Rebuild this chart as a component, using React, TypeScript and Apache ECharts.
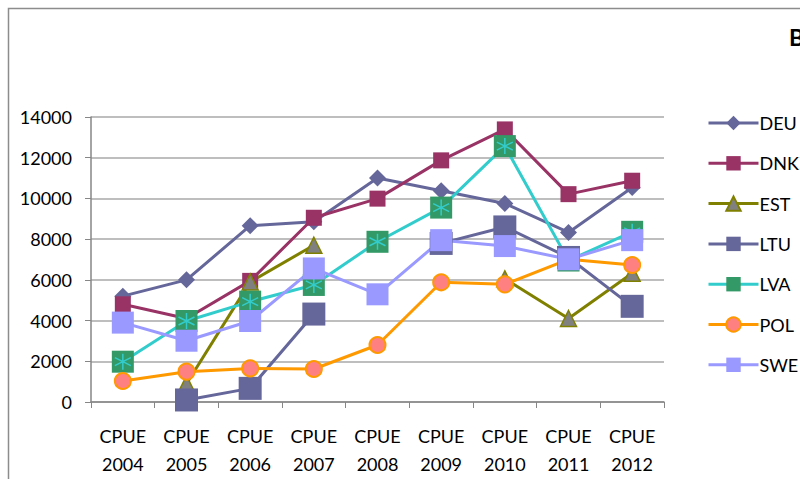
import React, { useEffect, useRef } from "react";
import * as echarts from "echarts";

const categories = ["CPUE 2004", "CPUE 2005", "CPUE 2006", "CPUE 2007", "CPUE 2008", "CPUE 2009", "CPUE 2010", "CPUE 2011", "CPUE 2012"];
const yTicks = [0, 2000, 4000, 6000, 8000, 10000, 12000, 14000];

const DEU = [5200, 6000, 8660, 8850, 11000, 10380, 9750, 8330, 10540];
const DNK = [4800, 4100, 5950, 9050, 9990, 11870, 13390, 10210, 10870];
const EST = [null, 900, 5900, 7700, null, null, 6050, 4100, 6320];
const LTU = [null, 100, 670, 4320, null, 7790, 8600, 7100, 4700];
const LVA = [1980, 3980, 4930, 5750, 7870, 9550, 12570, 6950, 8360];
const POL = [1030, 1490, 1650, 1620, 2800, 5880, 5780, 7010, 6730];
const SWE = [3900, 3010, 3980, 6560, 5290, 7950, 7660, 7010, 7950];

const FONT = "Lato, 'Open Sans', sans-serif";

export default function App() {
  const ref = useRef<HTMLDivElement>(null);
  useEffect(() => {
    if (!ref.current) return;
    const chart = echarts.init(ref.current, null, { renderer: "svg" });
    const lw = 3;
    const mk = (name: string, data: any[], color: string, symbol: string, size: number, fill: string, border?: string, bw = 0) => ({
      name,
      type: "line",
      data,
      symbol,
      symbolSize: size,
      showAllSymbol: true,
      connectNulls: false,
      lineStyle: { color, width: lw },
      itemStyle: { color: fill, borderColor: border || fill, borderWidth: bw },
      emphasis: { disabled: true },
    });
    chart.setOption({
      animation: false,
      textStyle: { fontFamily: FONT },
      graphic: [
        {
          type: "rect",
          shape: { x: 8.5, y: 8.5, width: 820, height: 500 },
          style: { fill: "none", stroke: "#8c8c8c", lineWidth: 1.5 },
          z: 0,
        },
        {
          type: "text",
          left: 789,
          top: 25,
          style: { text: "B", font: `bold 23px ${FONT}`, fill: "#000" },
        },
      ],
      legend: {
        orient: "vertical",
        left: 702,
        top: 109,
        itemWidth: 50,
        itemHeight: 18,
        itemGap: 22.3,
        data: ["DEU", "DNK", "EST", "LTU", "LVA", "POL", "SWE"],
        lineStyle: { width: 3 },
        textStyle: { fontSize: 18, color: "#000", fontFamily: FONT, padding: [0, 0, 0, -4] },
      },
      grid: { left: 91, right: 136, top: 117, bottom: 77, containLabel: false },
      xAxis: {
        type: "category",
        data: categories,
        boundaryGap: true,
        axisLine: { lineStyle: { color: "#868686", width: 1.5 } },
        axisTick: { show: true, length: 6, lineStyle: { color: "#868686" } },
        axisLabel: {
          formatter: (v: string) => v.replace(" ", "\n"),
          fontSize: 18,
          lineHeight: 28,
          color: "#000",
          margin: 20,
          interval: 0,
          fontFamily: FONT,
        },
      },
      yAxis: {
        type: "value",
        min: yTicks[0],
        max: yTicks[yTicks.length - 1],
        interval: 2000,
        axisLine: { show: true, lineStyle: { color: "#868686", width: 1.5 } },
        axisTick: { show: true, length: 6, lineStyle: { color: "#868686" } },
        splitLine: { lineStyle: { color: "#a8a8a8", width: 1.5 } },
        axisLabel: { fontSize: 18, color: "#000", margin: 19, fontFamily: FONT, formatter: (v: number) => String(v) },
      },
      series: [
        mk("DEU", DEU, "#65669a", "diamond", 17, "#65669a"),
        mk("DNK", DNK, "#993366", "rect", 16, "#993366"),
        mk("EST", EST, "#808000", "triangle", 16, "#808080", "#808000", 1.5),
        mk("LTU", LTU, "#65669a", "rect", 23, "#65669a"),
        mk("LVA", LVA, "#33cccc", "rect", 22, "#339966"),
        {
          name: "LVA-mark",
          type: "line",
          data: LVA,
          symbol: "path://M5,0 L5,10 M0.7,2.5 L9.3,7.5 M0.7,7.5 L9.3,2.5",
          symbolSize: 16,
          showAllSymbol: true,
          lineStyle: { width: 0, opacity: 0 },
          itemStyle: { color: "none", borderColor: "#33cccc", borderWidth: 1.5 },
          emphasis: { disabled: true },
          silent: true,
        },
        mk("POL", POL, "#ff9900", "circle", 16, "#ff8080", "#ff9900", 2),
        mk("SWE", SWE, "#9999ff", "rect", 22, "#9999ff"),
      ],
    });
    return () => chart.dispose();
  }, []);
  return <div ref={ref} style={{ position: "absolute", left: 0, top: 0, width: 800, height: 479 }} />;
}
